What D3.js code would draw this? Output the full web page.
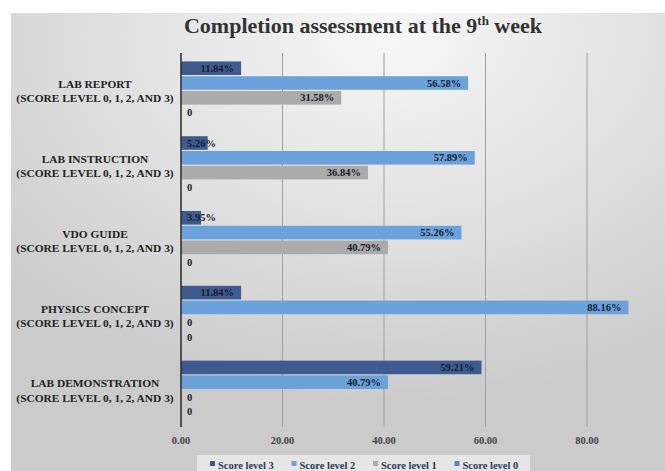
<!DOCTYPE html>
<html>
<head>
<meta charset="utf-8">
<script src="https://cdn.jsdelivr.net/npm/d3@7"></script>
<style>
    body { margin: 0; background: #ffffff; }
    svg text { font-family: "Liberation Serif", "Times New Roman", serif; font-weight: bold; }
</style>
</head>
<body>
<svg id="chart" width="665" height="471"></svg>
<script>
const categories = ["LAB REPORT", "LAB INSTRUCTION", "VDO GUIDE", "PHYSICS CONCEPT", "LAB DEMONSTRATION"];
const seriesNames = ["Score level 3", "Score level 2", "Score level 1", "Score level 0"];
const level3 = [11.84, 5.26, 3.95, 11.84, 59.21];
const level2 = [56.58, 57.89, 55.26, 88.16, 40.79];
const level1 = [31.58, 36.84, 40.79, 0, 0];
const level0 = [0, 0, 0, 0, 0];
const xTicks = [0, 20, 40, 60, 80];

const colors = ["#3d5b8e", "#6ca2dc", "#ababab", "#5585c8"];
const seriesValues = [level3, level2, level1, level0];

const svg = d3.select("#chart");
const defs = svg.append("defs");

// Background gradient (light at top centre, grey at the edges)
const grad = defs.append("radialGradient")
    .attr("id", "bg")
    .attr("cx", "0.58").attr("cy", "0.05")
    .attr("r", "0.8");
grad.append("stop").attr("offset", "0").attr("stop-color", "#f7f7f7");
grad.append("stop").attr("offset", "0.5").attr("stop-color", "#e2e2e2");
grad.append("stop").attr("offset", "1").attr("stop-color", "#cbcbcb");

svg.append("rect")
    .attr("x", 11).attr("y", 13)
    .attr("width", 654).attr("height", 458)
    .attr("fill", "url(#bg)");

// Title
const title = svg.append("text")
    .attr("x", 363).attr("y", 33)
    .attr("text-anchor", "middle")
    .attr("font-size", 22)
    .attr("fill", "#333333");
title.append("tspan").text("Completion assessment at the 9");
title.append("tspan").attr("font-size", 13).attr("dy", -8).text("th");
title.append("tspan").attr("dy", 8).text(" week");

// Scales
const plotTop = 53, plotBottom = 427;
const xScale = d3.scaleLinear().domain([0, 90]).range([181, 181 + 90 * 5.075]);
const yScale = d3.scaleBand()
    .domain(categories)
    .range([plotTop, plotBottom])
    .paddingInner(0.225)
    .paddingOuter(0.1125);
const ySub = d3.scaleBand()
    .domain(seriesNames)
    .range([0, yScale.bandwidth()])
    .paddingInner(0.08);

// Gridlines
svg.append("g")
    .selectAll("line")
    .data(xTicks.filter(function(d) { return d > 0; }))
    .join("line")
    .attr("x1", function(d) { return xScale(d); })
    .attr("x2", function(d) { return xScale(d); })
    .attr("y1", plotTop)
    .attr("y2", plotBottom)
    .attr("stroke", "#a0a0a0")
    .attr("stroke-width", 1);

// Bars
const groups = svg.append("g")
    .selectAll("g")
    .data(categories)
    .join("g")
    .attr("transform", function(d) { return "translate(0," + yScale(d) + ")"; });

const barData = function(cat, i) {
    return seriesNames.map(function(s, j) {
        return { series: s, value: seriesValues[j][i], color: colors[j] };
    });
};

groups.each(function(cat, i) {
    const g = d3.select(this);
    const data = barData(cat, i);
    g.selectAll("rect")
        .data(data)
        .join("rect")
        .attr("x", xScale(0))
        .attr("y", function(d) { return ySub(d.series); })
        .attr("width", function(d) { return xScale(d.value) - xScale(0); })
        .attr("height", ySub.bandwidth())
        .attr("fill", function(d) { return d.color; });

    g.selectAll("text")
        .data(data)
        .join("text")
        .attr("y", function(d) { return ySub(d.series) + ySub.bandwidth() / 2; })
        .attr("dy", "0.35em")
        .attr("text-anchor", "end")
        .attr("font-size", 10.5)
        .attr("fill", "#161c2c")
        .text(function(d) { return d.value === 0 ? "0" : d.value.toFixed(2) + "%"; })
        .attr("x", function(d) {
            const w = this.getComputedTextLength();
            return Math.max(xScale(d.value) - 7, xScale(0) + 6 + w);
        });
});

// Category labels
const catLabels = svg.append("g")
    .selectAll("text")
    .data(categories)
    .join("text")
    .attr("x", 95)
    .attr("y", function(d) { return yScale(d) + yScale.bandwidth() / 2; })
    .attr("text-anchor", "middle")
    .attr("font-size", 11.4)
    .attr("fill", "#222222");
catLabels.append("tspan")
    .attr("x", 95).attr("dy", "-0.2em")
    .text(function(d) { return d; });
catLabels.append("tspan")
    .attr("x", 95).attr("dy", "1.25em")
    .text("(SCORE LEVEL 0, 1, 2, AND 3)");

// Axis line
svg.append("line")
    .attr("x1", xScale(0)).attr("x2", xScale(0))
    .attr("y1", plotTop).attr("y2", plotBottom)
    .attr("stroke", "#333333")
    .attr("stroke-width", 1.6);

// X tick labels
svg.append("g")
    .selectAll("text")
    .data(xTicks)
    .join("text")
    .attr("x", function(d) { return xScale(d); })
    .attr("y", 444)
    .attr("text-anchor", "middle")
    .attr("font-size", 10.5)
    .attr("fill", "#444444")
    .text(function(d) { return d3.format(".2f")(d); });

// Legend
svg.append("rect")
    .attr("x", 197).attr("y", 455)
    .attr("width", 333).attr("height", 16)
    .attr("fill", "#ececec")
    .attr("opacity", 0.8);

const legend = svg.append("g")
    .selectAll("g")
    .data(seriesNames)
    .join("g")
    .attr("transform", function(d, i) { return "translate(" + (210 + i * 81.5) + ",465)"; });
legend.append("rect")
    .attr("x", 0).attr("y", -4)
    .attr("width", 5).attr("height", 5)
    .attr("fill", function(d, i) { return colors[i]; });
legend.append("text")
    .attr("x", 8).attr("y", 0)
    .attr("dy", "0.35em")
    .attr("font-size", 10.5)
    .attr("fill", "#2a3a5a")
    .text(function(d) { return d; });
</script>
</body>
</html>
